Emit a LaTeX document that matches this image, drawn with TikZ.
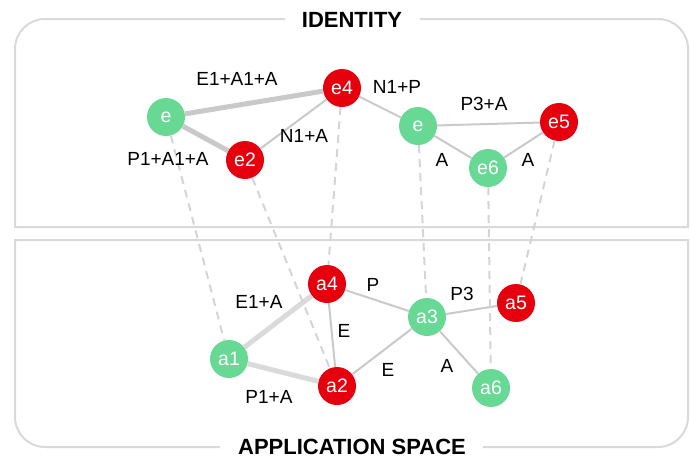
\documentclass[tikz,border=0pt]{standalone}
\usepackage{fontspec}
\setmainfont{Liberation Sans}
\begin{document}
\begin{tikzpicture}[x=1pt,y=-1pt,
  green/.style={circle,fill=ngreen,draw=none,minimum size=38pt,inner sep=0pt,text=white,font=\fontsize{19.5}{22}\selectfont},
  red/.style={circle,fill=nred,draw=none,minimum size=38pt,inner sep=0pt,text=white,font=\fontsize{19.5}{22}\selectfont},
  lbl/.style={font=\fontsize{19}{22}\selectfont,text=black,inner sep=0pt},
  ttl/.style={font=\fontsize{22}{26}\selectfont\bfseries,text=black,inner sep=0pt},
  thick edge/.style={draw=edgegray,line width=5pt},
  thick light/.style={draw=edgelight,line width=5pt},
  thin edge/.style={draw=edgegray,line width=2pt},
  map edge/.style={draw=dashgray,line width=2pt,dash pattern=on 8pt off 6pt},
  frame/.style={draw=framegray,line width=2pt}
]
\definecolor{ngreen}{HTML}{67D995}
\definecolor{nred}{HTML}{E6000E}
\definecolor{edgegray}{HTML}{C9C9C9}
\definecolor{edgelight}{HTML}{DADADA}
\definecolor{dashgray}{HTML}{D4D4D4}
\definecolor{framegray}{HTML}{D9D9D9}
\useasboundingbox (0,0) rectangle (690,458);

% frames
\draw[frame] (285,19) -- (45,19) arc[start angle=270,end angle=180,radius=30] -- (15,227) -- (688,227) -- (688,49) arc[start angle=0,end angle=-90,radius=30] -- (420,19);
\draw[frame] (220,447) -- (45,447) arc[start angle=90,end angle=180,radius=30] -- (15,240) -- (688,240) -- (688,417) arc[start angle=0,end angle=90,radius=30] -- (483,447);
\node[ttl] (t1) at (352,20) {IDENTITY};
\node[ttl] (t2) at (352,447) {APPLICATION SPACE};

% nodes
\node[green] (e) at (166,117) {e};
\node[red] (e4) at (342,88) {e4};
\node[red] (e2) at (245,160) {e2};
\node[green] (eb) at (418,126) {e};
\node[green] (e6) at (488,168) {e6};
\node[red] (e5) at (559,122) {e5};

\node[green] (a1) at (229,359) {a1};
\node[red] (a4) at (327,284) {a4};
\node[red] (a2) at (337,386) {a2};
\node[green] (a3) at (427,317) {a3};
\node[red] (a5) at (516,303) {a5};
\node[green] (a6) at (491,388) {a6};

% edges
\path[thick edge] (e) -- (e4);
\path[thick edge] (e) -- (e2);
\path[thin edge] (e2) -- (e4);
\path[thin edge] (e4) -- (eb);
\path[thin edge] (eb) -- (e5);
\path[thin edge] (eb) -- (e6);
\path[thin edge] (e6) -- (e5);

\path[thick light] (a1) -- (a4);
\path[thick light] (a1) -- (a2);
\path[thin edge] (a4) -- (a2);
\path[thin edge] (a4) -- (a3);
\path[thin edge] (a2) -- (a3);
\path[thin edge] (a3) -- (a5);
\path[thin edge] (a3) -- (a6);

\path[map edge] (e) -- (a1);
\path[map edge] (e2) -- (a2);
\path[map edge] (e4) -- (a4);
\path[map edge] (eb) -- (a3);
\path[map edge] (e6) -- (a6);
\path[map edge] (e5) -- (a5);

% labels
\node[lbl] (l1) at (237,79) {E1+A1+A};
\node[lbl] (l2) at (168,159) {P1+A1+A};
\node[lbl] (l3) at (304,136) {N1+A};
\node[lbl] (l4) at (397,87) {N1+P};
\node[lbl] (l5) at (484,104) {P3+A};
\node[lbl] (l6) at (442,160) {A};
\node[lbl] (l7) at (528,160) {A};

\node[lbl] (m1) at (259,302) {E1+A};
\node[lbl] (m2) at (269,397) {P1+A};
\node[lbl] (m3) at (344,331) {E};
\node[lbl] (m4) at (373,285) {P};
\node[lbl] (m5) at (462,294) {P3};
\node[lbl] (m6) at (388,370) {E};
\node[lbl] (m7) at (447,366) {A};
\end{tikzpicture}
\end{document}
